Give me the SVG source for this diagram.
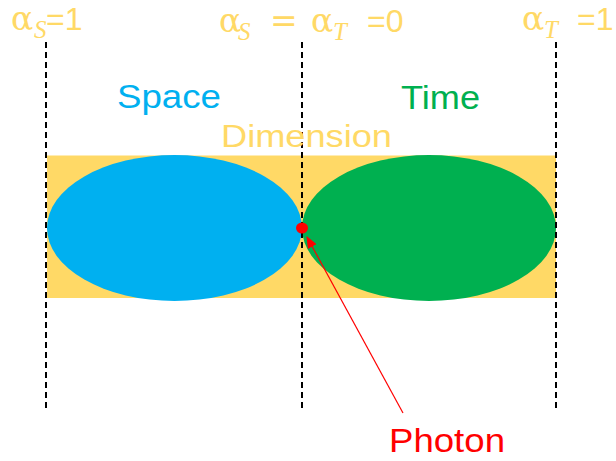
<svg xmlns="http://www.w3.org/2000/svg" width="616" height="461" viewBox="0 0 616 461">
<style>
.lbl{font-family:"Liberation Sans","DejaVu Sans",sans-serif;}
.al{font-family:"DejaVu Serif","Liberation Serif",serif;fill:#FFD966;font-size:33px;}
.sub{font-family:"Liberation Serif","DejaVu Serif",serif;font-style:italic;font-size:25px;}
.eq{font-family:"Liberation Sans","DejaVu Sans",sans-serif;font-size:32px;}
.dash{stroke:#000;stroke-width:2;stroke-dasharray:6,4;fill:none;}
</style>
<defs>
<marker id="ah" markerWidth="12" markerHeight="10" refX="11" refY="5" orient="auto" markerUnits="userSpaceOnUse">
<path d="M0,0 L12,5 L0,10 Z" fill="#FF0000"/>
</marker>
</defs>
<g id="dimension">
<rect x="47" y="155.5" width="509" height="142.5" fill="#FFD966"/>
</g>
<g id="space">
<ellipse cx="174.5" cy="228" rx="127.5" ry="73" fill="#00B0F0"/>
</g>
<g id="time">
<ellipse cx="429" cy="228" rx="127" ry="73" fill="#00B050"/>
</g>
<g id="connectors">
<line class="dash" x1="46" y1="42" x2="46" y2="412"/>
<line class="dash" x1="302" y1="42" x2="302" y2="412"/>
<line class="dash" x1="556" y1="42" x2="556" y2="412"/>
<line x1="403" y1="413" x2="307" y2="237" stroke="#FF0000" stroke-width="1.2" marker-end="url(#ah)"/>
</g>
<g id="photon">
<ellipse cx="302" cy="228" rx="6" ry="5.5" fill="#FF0000"/>
<text class="lbl" x="389" y="452" font-size="33" fill="#FF0000" textLength="116" lengthAdjust="spacingAndGlyphs">Photon</text>
</g>
<g id="labels">
<text class="lbl" x="117" y="108" font-size="33" fill="#00B0F0" textLength="104" lengthAdjust="spacingAndGlyphs">Space</text>
<text class="lbl" x="401" y="109" font-size="33" fill="#00B050" textLength="79" lengthAdjust="spacingAndGlyphs">Time</text>
<text class="lbl" x="221" y="147" font-size="31" fill="#FFD966" textLength="171" lengthAdjust="spacingAndGlyphs">Dimension</text>
</g>
<g id="alpha-labels" fill="#FFD966">
<text class="al" x="11" y="30">α<tspan class="sub" x="34" y="38">S</tspan><tspan class="eq" x="46" y="30">=1</tspan></text>
<text class="al" x="219" y="32">α<tspan class="sub" x="238" y="40">S</tspan><tspan x="270" y="32">=</tspan><tspan x="311" y="32">α</tspan><tspan class="sub" x="333" y="40">T</tspan><tspan class="eq" x="367" y="32">=0</tspan></text>
<text class="al" x="522" y="30">α<tspan class="sub" x="544" y="38">T</tspan><tspan class="eq" x="577" y="30">=1</tspan></text>
</g>
</svg>
